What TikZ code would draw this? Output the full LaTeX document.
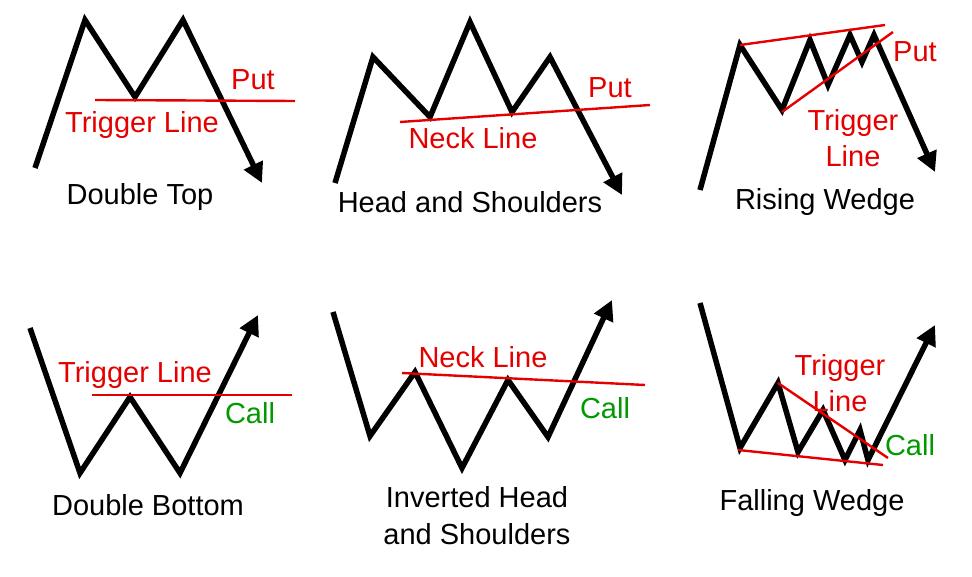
\documentclass[tikz,border=0pt]{standalone}
\usepackage{fontspec}
\setmainfont{Liberation Sans}
\usetikzlibrary{arrows.meta}
\tikzset{
  price/.style={line width=5.5pt,line join=miter,-{Triangle[length=20pt,width=20pt]}},
  trigger/.style={red!90!black,line width=2.4pt},
  title/.style={font=\fontsize{29}{37}\selectfont,black,align=center},
  signal/.style={font=\fontsize{29}{36}\selectfont,red!90!black,align=center},
  callsig/.style={font=\fontsize{29}{36}\selectfont,green!60!black},
}
\begin{document}
\begin{tikzpicture}[x=1pt,y=-1pt]
    \useasboundingbox (0,0) rectangle (972,577);
    % double top
    \draw[price] (35,168) -- (85,20) -- (135,97) -- (183,20) -- (262,183);
    \draw[trigger] (95,100) -- (295,101);
    \node[signal] (dtput) at (253,80) {Put};
    \node[signal] (dttrig) at (142,125) {Trigger Line};
    \node[title] (dt) at (140,197) {Double Top};
    % head and shoulders
    \draw[price] (335,183) -- (373,57) -- (430,117) -- (470,22) -- (512,112) -- (550,57) -- (622,195);
    \draw[trigger] (400,122) -- (650,105);
    \node[signal] (hsneck) at (473,138) {Neck Line};
    \node[signal] (hsput) at (610,88) {Put};
    \node[title] (hs) at (470,202) {Head and Shoulders};
    % rising wedge
    \draw[price] (700,190) -- (740,45) -- (782,110) -- (810,40) -- (828,85) -- (850,35) -- (862,62) -- (874,35) -- (935,172);
    \draw[trigger] (740,45) -- (885,25);
    \draw[trigger] (782,112) -- (893,32);
    \node[signal] (rwput) at (915,52) {Put};
    \node[signal] (rwtrig) at (853,138) {Trigger\\Line};
    \node[title] (rw) at (825,202) {Rising Wedge};
    % double bottom
    \draw[price] (30,328) -- (80,473) -- (130,397) -- (180,473) -- (258,315);
    \draw[trigger] (92,395) -- (292,395);
    \node[signal] (dbtrig) at (135,375) {Trigger Line};
    \node[callsig] (dbcall) at (250,413) {Call};
    \node[title] (db) at (148,505) {Double Bottom};
    % inverted head and shoulders
    \draw[price] (333,312) -- (370,436) -- (415,372) -- (462,468) -- (508,380) -- (548,437) -- (612,300);
    \draw[trigger] (402,373) -- (645,385);
    \node[signal] (ihneck) at (483,357) {Neck Line};
    \node[callsig] (ihcall) at (605,408) {Call};
    \node[title] (ih) at (477,516) {Inverted Head\\and Shoulders};
    % falling wedge
    \draw[price] (700,303) -- (740,448) -- (778,383) -- (798,452) -- (823,410) -- (845,460) -- (860,430) -- (868,460) -- (935,325);
    \draw[trigger] (738,450) -- (883,465);
    \draw[trigger] (778,383) -- (888,458);
    \node[signal] (fwtrig) at (840,383) {Trigger\\Line};
    \node[callsig] (fwcall) at (910,445) {Call};
    \node[title] (fw) at (812,503) {Falling Wedge};
\end{tikzpicture}
\end{document}
